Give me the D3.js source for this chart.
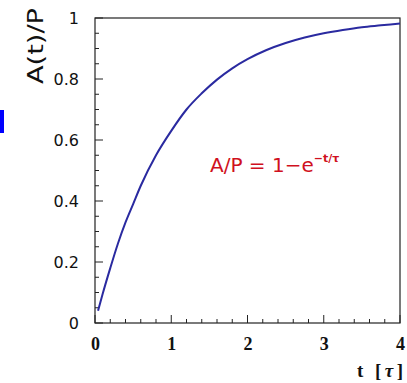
<!DOCTYPE html>
<html><head><meta charset="utf-8">
<script src="https://cdn.jsdelivr.net/npm/d3@7"></script>
<style>body{margin:0;background:#fff}svg{display:block}</style>
</head><body>
<script>
const tValues = [0.04,0.1,0.2,0.3,0.4,0.5,0.6,0.8,1.0,1.2,1.4,1.6,1.8,2.0,2.25,2.5,2.75,3.0,3.25,3.5,3.75,4.0];
const aValues = [0.04,0.095,0.18,0.26,0.33,0.39,0.45,0.55,0.63,0.70,0.753,0.798,0.835,0.865,0.895,0.918,0.936,0.95,0.961,0.97,0.976,0.982];
const xTickLabels = [0,1,2,3,4];
const yTickLabels = [0,0.2,0.4,0.6,0.8,1];

const W=407,H=383;
const svg=d3.select("body").append("svg").attr("width",W).attr("height",H);
const L=95,R=400,T=18,B=323;
const x=d3.scaleLinear().domain([0,4]).range([L,R]);
const y=d3.scaleLinear().domain([0,1]).range([B,T]);

// blue marker at left edge
svg.append("rect").attr("x",0).attr("y",110).attr("width",4).attr("height",23).attr("fill","#0000ff");

// frame
svg.append("rect").attr("x",L).attr("y",T).attr("width",R-L).attr("height",B-T)
  .attr("fill","none").attr("stroke","#222").attr("stroke-width",1.2);

// minor / major ticks (inward)
const xMinor=d3.range(0,4.0001,0.2);
svg.append("g").selectAll("line").data(xMinor).join("line")
  .attr("x1",d=>x(d)).attr("x2",d=>x(d))
  .attr("y1",B).attr("y2",(d,i)=>B-(i%5===0?8:4))
  .attr("stroke","#222").attr("stroke-width",1);
const yMinor=d3.range(0,1.0001,0.05);
svg.append("g").selectAll("line").data(yMinor).join("line")
  .attr("y1",d=>y(d)).attr("y2",d=>y(d))
  .attr("x1",L).attr("x2",(d,i)=>L+(i%4===0?8:4))
  .attr("stroke","#222").attr("stroke-width",1);

const axisX=d3.axisBottom(x).tickValues(xTickLabels).tickSize(0).tickPadding(27).tickFormat(d3.format("d"));
const gx=svg.append("g").attr("transform",`translate(0,${B})`).call(axisX);
gx.select(".domain").remove();
gx.selectAll("text").attr("dy",null).attr("font-family","Liberation Serif, serif").attr("font-weight","bold")
  .attr("font-size",18).attr("fill","#111");

const axisY=d3.axisLeft(y).tickValues(yTickLabels).tickSize(0).tickPadding(16).tickFormat(d=>d===0||d===1?String(d):d3.format(".1f")(d));
const gy=svg.append("g").attr("transform",`translate(${L},0)`).call(axisY);
gy.select(".domain").remove();
gy.selectAll("text").attr("font-family","DejaVu Sans, sans-serif").attr("font-size",16).attr("fill","#111");

// curve
const line=d3.line().x((d,i)=>x(tValues[i])).y(d=>y(d)).curve(d3.curveMonotoneX);
svg.append("path").attr("d",line(aValues)).attr("fill","none").attr("stroke","#2a2aa0").attr("stroke-width",2);

// axis titles
svg.append("text").attr("transform","translate(43,46) rotate(-90)").attr("text-anchor","middle")
  .attr("font-family","DejaVu Sans, sans-serif").attr("font-size",22).attr("fill","#111")
  .attr("textLength",76).attr("lengthAdjust","spacingAndGlyphs").text("A(t)/P");
const xt=svg.append("text").attr("x",403).attr("y",377).attr("text-anchor","end")
  .attr("font-family","Liberation Serif, serif").attr("font-weight","bold").attr("font-size",19).attr("fill","#111")
  .attr("textLength",46).attr("lengthAdjust","spacing");
xt.append("tspan").text("t [");
xt.append("tspan").attr("font-style","italic").text("τ");
xt.append("tspan").text("]");

// formula
const f=svg.append("text").attr("x",210).attr("y",172).attr("font-family","DejaVu Sans, sans-serif")
  .attr("font-size",20).attr("fill","#d01020");
f.append("tspan").text("A/P = 1−e");
f.append("tspan").attr("dy",-10).attr("font-size",11).attr("font-weight","bold").text("−t/τ");
</script>
</body></html>
